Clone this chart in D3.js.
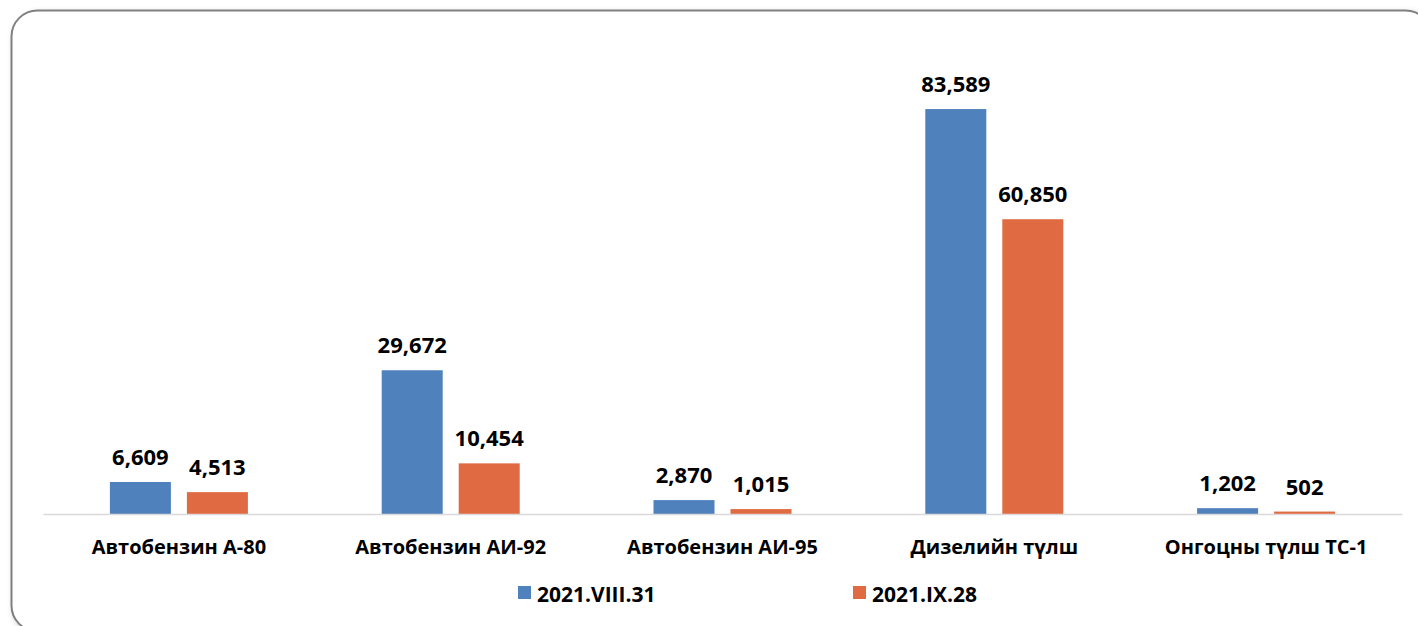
<!DOCTYPE html>
<html>
<head>
<meta charset="utf-8">
<script src="https://cdn.jsdelivr.net/npm/d3@7"></script>
<style>
  body { margin: 0; background: #fff; }
  svg { display: block; }
  text { font-family: "Open Sans", "DejaVu Sans", sans-serif; font-weight: 700; fill: #000; }
</style>
</head>
<body>
<div id="chart"></div>
<script>
// data
const categories = ["Автобензин А-80", "Автобензин АИ-92", "Автобензин АИ-95", "Дизелийн түлш", "Онгоцны түлш ТС-1"];
const seriesNames = ["2021.VIII.31", "2021.IX.28"];
const augValues = [6609, 29672, 2870, 83589, 1202];
const sepValues = [4513, 10454, 1015, 60850, 502];
const colors = ["#4F81BD", "#E06B42"];

const w = 1418, h = 626;
const left = 43, right = 1402, base = 514;

const svg = d3.select("#chart").append("svg")
    .attr("width", w)
    .attr("height", h);

// frame with rounded corners + soft shadow
const defs = svg.append("defs");
const f = defs.append("filter").attr("id", "sh").attr("x", "-5%").attr("y", "-5%").attr("width", "110%").attr("height", "115%");
f.append("feDropShadow").attr("dx", 3).attr("dy", 3).attr("stdDeviation", 3).attr("flood-color", "#000").attr("flood-opacity", 0.25);

svg.append("rect")
    .attr("x", 11.5).attr("y", 10.5)
    .attr("width", 1420).attr("height", 621)
    .attr("rx", 26).attr("ry", 26)
    .attr("fill", "#fff")
    .attr("stroke", "#808080")
    .attr("stroke-width", 2)
    .attr("filter", "url(#sh)");

const rows = categories.map((c, i) => ({cat: c, vals: [augValues[i], sepValues[i]]}));

const x0 = d3.scaleBand().domain(categories).range([left, right]);
const bw = 61, gap = 16;
const x1 = d3.scaleOrdinal().domain([0, 1]).range([-(gap / 2 + bw), gap / 2]);
const y = d3.scaleLinear().domain([0, 90000]).range([base, 78]);

const fmt = d3.format(",");

const g = svg.selectAll("g.grp")
    .data(rows)
    .enter()
    .append("g")
    .attr("class", "grp")
    .attr("transform", d => "translate(" + (x0(d.cat) + x0.bandwidth() / 2) + ",0)");

g.selectAll("rect")
    .data(d => d.vals)
    .enter()
    .append("rect")
    .attr("x", (d, i) => x1(i))
    .attr("y", d => y(d))
    .attr("width", bw)
    .attr("height", d => base - y(d))
    .attr("fill", (d, i) => colors[i]);

g.selectAll("text")
    .data(d => d.vals)
    .enter()
    .append("text")
    .attr("x", (d, i) => x1(i) + bw / 2)
    .attr("y", d => y(d) - 17)
    .attr("text-anchor", "middle")
    .style("font-size", "22px")
    .text(d => fmt(d));

// category axis
const xAxis = d3.axisBottom(x0).tickSize(0).tickPadding(0);
const ax = svg.append("g")
    .attr("transform", "translate(0," + base + ")")
    .call(xAxis);
ax.select(".domain").attr("stroke", "#d9d9d9").attr("stroke-width", 1.5);
ax.selectAll(".tick text")
    .attr("y", 40)
    .attr("dy", 0)
    .style("font-size", "20px")
    .style("font-family", "'Open Sans', sans-serif")
    .style("font-weight", 700)
    .attr("fill", "#000");

// legend
const lx = [518, 853];
const leg = svg.selectAll("g.leg")
    .data(seriesNames)
    .enter()
    .append("g")
    .attr("class", "leg")
    .attr("transform", (d, i) => "translate(" + lx[i] + ",586)");
leg.append("rect")
    .attr("width", 13).attr("height", 13)
    .attr("fill", (d, i) => colors[i]);
leg.append("text")
    .attr("x", 19)
    .attr("y", 16)
    .style("font-size", "21px")
    .text(d => d);
</script>
</body>
</html>
